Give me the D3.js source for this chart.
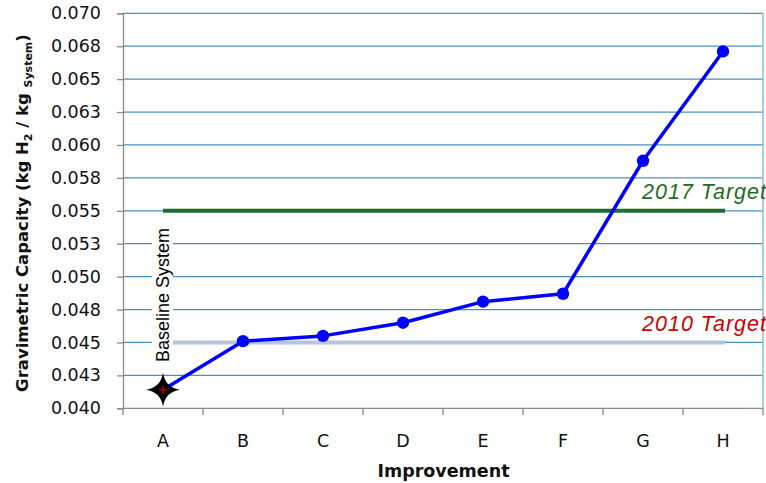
<!DOCTYPE html>
<html><head><meta charset="utf-8">
<script src="https://cdn.jsdelivr.net/npm/d3@7"></script>
<style>body{margin:0;background:#fff}svg{display:block}</style>
</head><body>
<svg id="c" width="766" height="483"></svg>
<script>
const categories = ["A","B","C","D","E","F","G","H"];
const capacity = [0.0414, 0.0451, 0.0455, 0.0465, 0.0481, 0.0487, 0.0588, 0.0671];
const yTickValues = [0.040,0.0425,0.045,0.0475,0.050,0.0525,0.055,0.0575,0.060,0.0625,0.065,0.0675,0.070];
const yTickLabels = ["0.040","0.043","0.045","0.048","0.050","0.053","0.055","0.058","0.060","0.063","0.065","0.068","0.070"];
const target2010 = 0.045;
const target2017 = 0.055;

const svg = d3.select("#c");
const L=123, R=763, T=13.3, B=408.3;
const x = d3.scaleBand().domain(categories).range([L,R]).padding(0);
const y = d3.scaleLinear().domain([0.040,0.070]).range([B,T]);
const cx = d => x(d)+x.bandwidth()/2;

// gridlines
svg.append("g").selectAll("line").data(yTickValues.slice(1)).join("line")
  .attr("x1",L).attr("x2",R).attr("y1",d=>y(d)).attr("y2",d=>y(d))
  .attr("stroke","#4a8fc4").attr("stroke-width",1.2);
// right border
svg.append("line").attr("x1",R).attr("x2",R).attr("y1",T).attr("y2",B)
  .attr("stroke","#8dbbdc").attr("stroke-width",1.5);

// y axis
const yAxis = d3.axisLeft(y).tickValues(yTickValues).tickSize(6).tickPadding(16)
  .tickFormat((d,i)=>yTickLabels[i]);
const gy = svg.append("g").attr("transform",`translate(${L},0)`).call(yAxis);
gy.select(".domain").attr("stroke","#8a8a8a").attr("stroke-width",1.3);
gy.selectAll(".tick line").attr("stroke","#8a8a8a").attr("stroke-width",1.3);
gy.selectAll(".tick text").attr("font-family","DejaVu Sans").attr("font-size","17.5px").attr("fill","#111");

// x axis
const gx = svg.append("g").attr("transform",`translate(0,${B})`);
gx.append("line").attr("x1",L).attr("x2",R).attr("stroke","#8a8a8a").attr("stroke-width",1.3);
gx.selectAll("line.tk").data(categories.concat(["_end"])).join("line").attr("class","tk")
  .attr("x1",(d,i)=>L+i*x.bandwidth()).attr("x2",(d,i)=>L+i*x.bandwidth())
  .attr("y1",0).attr("y2",7).attr("stroke","#8a8a8a").attr("stroke-width",1.3);
gx.selectAll("text").data(categories).join("text")
  .attr("x",d=>cx(d)).attr("y",39).attr("text-anchor","middle")
  .attr("font-family","DejaVu Sans").attr("font-size","17.5px").attr("fill","#111").text(d=>d);

// target lines
svg.append("line").attr("x1",cx("A")).attr("x2",cx("H")+2).attr("y1",y(target2017)).attr("y2",y(target2017))
  .attr("stroke","#1b6e2c").attr("stroke-width",4);
svg.append("line").attr("x1",cx("A")).attr("x2",cx("H")+2).attr("y1",y(target2010)).attr("y2",y(target2010))
  .attr("stroke","#b6c5df").attr("stroke-width",4);

// Baseline System label with white background
const bl = svg.append("g").attr("transform",`translate(${cx("A")+6},362) rotate(-90)`);
bl.append("rect").attr("x",-2).attr("y",-17).attr("width",138).attr("height",21).attr("fill","#fff");
bl.append("text").attr("x",0).attr("y",0).attr("font-family","Liberation Sans, Arial").attr("font-size","18px")
  .attr("fill","#000").text("Baseline System");

// series line
const line = d3.line().x((d,i)=>cx(categories[i])).y(d=>y(d));
svg.append("path").datum(capacity).attr("d",line).attr("fill","none")
  .attr("stroke","#0000ff").attr("stroke-width",3.5).attr("stroke-linejoin","round");
svg.append("g").selectAll("circle").data(capacity.slice(1)).join("circle")
  .attr("cx",(d,i)=>cx(categories[i+1])).attr("cy",d=>y(d)).attr("r",6.2).attr("fill","#0000ff");

// star marker at baseline
const sx=cx("A"), sy=y(capacity[0]);
const s=17, k=2.2;
svg.append("path").attr("transform",`translate(${sx},${sy})`)
  .attr("d",`M0,${-s} Q${k},${-k} ${s},0 Q${k},${k} 0,${s} Q${-k},${k} ${-s},0 Q${-k},${-k} 0,${-s} Z`)
  .attr("fill","#000");
svg.append("path").attr("transform",`translate(${sx},${sy})`).attr("d","M-4,0H4M0,-4V4")
  .attr("stroke","#e00000").attr("stroke-width",1.2);

// target labels
svg.append("text").attr("x",642).attr("y",198.5).attr("textLength",124).attr("lengthAdjust","spacing")
  .attr("font-family","Liberation Sans, Arial").attr("font-style","italic").attr("font-size","21.5px")
  .attr("fill","#1f6b1f").text("2017 Target");
svg.append("text").attr("x",642).attr("y",331).attr("textLength",124).attr("lengthAdjust","spacing")
  .attr("font-family","Liberation Sans, Arial").attr("font-style","italic").attr("font-size","21.5px")
  .attr("fill","#cc0000").text("2010 Target");

// axis titles
svg.append("text").attr("x",443.5).attr("y",477).attr("text-anchor","middle")
  .attr("font-family","DejaVu Sans").attr("font-weight","bold").attr("font-size","17.5px").attr("fill","#111")
  .text("Improvement");
const yt = svg.append("text").attr("transform","translate(28,213) rotate(-90)").attr("text-anchor","middle")
  .attr("font-family","DejaVu Sans").attr("font-weight","bold").attr("font-size","16.5px").attr("fill","#111");
yt.append("tspan").text("Gravimetric Capacity (kg H");
yt.append("tspan").attr("font-size","11px").attr("dy",4).text("2");
yt.append("tspan").attr("dy",-4).text(" / kg ");
yt.append("tspan").attr("font-size","11px").attr("dy",4).text("System");
yt.append("tspan").attr("dy",-4).text(")");
</script>
</body></html>
